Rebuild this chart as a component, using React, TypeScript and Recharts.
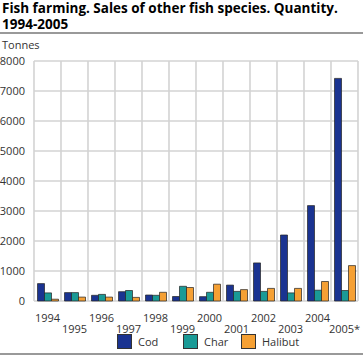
import React from 'react';
import { BarChart, Bar, XAxis, YAxis, CartesianGrid } from 'recharts';

const years = ['1994', '1995', '1996', '1997', '1998', '1999', '2000', '2001', '2002', '2003', '2004', '2005*'];
const cod = [580, 280, 190, 310, 200, 150, 145, 530, 1270, 2200, 3180, 7420];
const charFish = [270, 280, 220, 350, 190, 490, 290, 320, 320, 270, 360, 350];
const halibut = [60, 130, 130, 120, 290, 450, 560, 380, 420, 420, 650, 1180];
const yTicks = [0, 1000, 2000, 3000, 4000, 5000, 6000, 7000, 8000];

const data = years.map((y, i) => ({ year: y, Cod: cod[i], Char: charFish[i], Halibut: halibut[i] }));

const FONT = '"Open Sans", "DejaVu Sans", sans-serif';
const COLORS = { Cod: '#1a3391', Char: '#1a9a96', Halibut: '#f5a034' };

const XTick = (props: any) => {
  const { x, y, payload, index } = props;
  const dy = index % 2 === 0 ? 10 : 21;
  return (
    <text x={x} y={y + dy} textAnchor="middle" fontSize={11} fill="#333" fontFamily={FONT} dominantBaseline="middle">
      {payload.value}
    </text>
  );
};

export default function App() {
  return (
    <div style={{ position: 'absolute', left: 0, top: 0, width: 363, height: 356, background: '#fff', fontFamily: FONT }}>
      <div style={{ position: 'absolute', left: 2, top: 0, fontSize: 13.5, fontWeight: 'bold', lineHeight: '16px', color: '#000' }}>
        Fish farming. Sales of other fish species. Quantity.<br />1994-2005
      </div>
      <div style={{ position: 'absolute', left: 0, top: 32, width: 363, height: 2, background: '#999' }} />
      <div style={{ position: 'absolute', left: 2, top: 37, fontSize: 11, color: '#333' }}>Tonnes</div>
      <div style={{ position: 'absolute', left: 0, top: 0 }}>
        <BarChart
          width={363}
          height={340}
          data={data}
          margin={{ top: 61, right: 5, left: 0, bottom: 0 }}
          barGap={0}
          barCategoryGap="13%"
        >
          <CartesianGrid
            stroke="#d3d3d3"
            strokeWidth={1.6}
            verticalCoordinatesGenerator={({ offset }: any) =>
              Array.from({ length: years.length + 1 }, (_, i) => offset.left + (i * offset.width) / years.length)
            }
          />
          <XAxis dataKey="year" interval={0} tickLine={false} axisLine={false} height={39} tick={<XTick />} />
          <YAxis
            width={34}
            domain={[0, 8000]}
            ticks={yTicks}
            tickLine={false}
            axisLine={false}
            tick={{ fontSize: 11, fill: '#333', fontFamily: FONT }}
            tickMargin={3}
          />
          <Bar dataKey="Cod" fill={COLORS.Cod} stroke="#222" strokeWidth={0.7} isAnimationActive={false} />
          <Bar dataKey="Char" fill={COLORS.Char} stroke="#222" strokeWidth={0.7} isAnimationActive={false} />
          <Bar dataKey="Halibut" fill={COLORS.Halibut} stroke="#222" strokeWidth={0.7} isAnimationActive={false} />
        </BarChart>
      </div>
      {(['Cod', 'Char', 'Halibut'] as const).map((k, i) => {
        const left = [117, 183, 241][i];
        return (
          <div key={k} style={{ position: 'absolute', left, top: 334, display: 'flex', alignItems: 'center', fontSize: 11, color: '#333' }}>
            <div style={{ width: 13, height: 13, background: COLORS[k], border: '1px solid #333', marginRight: 6 }} />
            <span>{k}</span>
          </div>
        );
      })}
      <div style={{ position: 'absolute', left: 0, top: 353, width: 363, height: 2, background: '#999' }} />
    </div>
  );
}
